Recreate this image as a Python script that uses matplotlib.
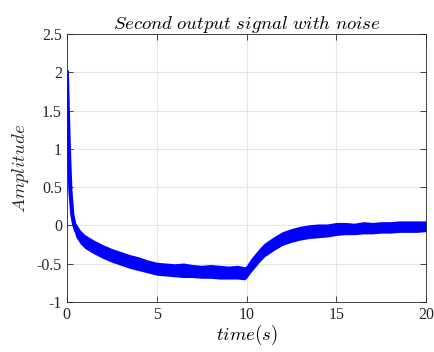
import numpy as np
import matplotlib.pyplot as plt

plt.rcParams['mathtext.fontset'] = 'cm'
plt.rcParams['font.family'] = ['Liberation Serif', 'DejaVu Serif']

# values: centre of the noisy band and its envelope
t = [0, 0.05, 0.1, 0.15, 0.2, 0.3, 0.4, 0.5, 0.75, 1, 1.5, 2, 2.5, 3, 3.5, 4, 4.5, 5, 5.5, 6,
     6.5, 7, 7.5, 8, 8.5, 9, 9.5, 9.9, 10, 10.25, 10.5, 10.75, 11, 11.5, 12, 12.5, 13, 13.5,
     14, 14.5, 15, 15.5, 16, 16.5, 17, 17.5, 18, 18.5, 19, 19.5, 20]
mid = [2.0, 1.55, 1.1, 0.75, 0.45, 0.15, 0.02, -0.06, -0.15, -0.21, -0.28, -0.34, -0.39, -0.43,
       -0.47, -0.5, -0.53, -0.56, -0.57, -0.58, -0.58, -0.59, -0.6, -0.6, -0.6, -0.61, -0.61, -0.62,
       -0.6, -0.52, -0.45, -0.38, -0.32, -0.24, -0.17, -0.13, -0.1, -0.08, -0.07, -0.06, -0.05,
       -0.04, -0.04, -0.03, -0.03, -0.03, -0.02, -0.02, -0.01, -0.01, -0.01]
upper = [2.02, 1.6, 1.15, 0.8, 0.5, 0.22, 0.1, 0.03, -0.06, -0.12, -0.19, -0.25, -0.3, -0.34,
         -0.38, -0.41, -0.45, -0.48, -0.49, -0.5, -0.49, -0.51, -0.52, -0.51, -0.52, -0.53, -0.52, -0.54,
         -0.52, -0.43, -0.36, -0.29, -0.23, -0.15, -0.08, -0.04, -0.01, 0.01, 0.02, 0.02, 0.04,
         0.04, 0.03, 0.05, 0.04, 0.05, 0.05, 0.06, 0.06, 0.06, 0.06]
lower = [1.98, 1.5, 1.05, 0.7, 0.4, 0.08, -0.06, -0.15, -0.24, -0.3, -0.37, -0.43, -0.48, -0.52,
         -0.56, -0.59, -0.62, -0.65, -0.66, -0.67, -0.68, -0.68, -0.69, -0.69, -0.7, -0.7, -0.7, -0.71,
         -0.69, -0.61, -0.54, -0.47, -0.41, -0.33, -0.26, -0.22, -0.19, -0.17, -0.16, -0.15, -0.13,
         -0.12, -0.12, -0.11, -0.11, -0.1, -0.1, -0.09, -0.09, -0.09, -0.08]

fig = plt.figure(figsize=(4.34, 3.52), dpi=100)
ax = fig.add_axes([0.154, 0.142, 0.828, 0.761])

ax.fill_between(t, lower, upper, color='#0000ff', lw=0)
ax.plot(t, mid, color='#0000ff', lw=3)

ax.set_xlim(0, 20)
ax.set_ylim(-1, 2.5)
ax.set_xticks([0, 5, 10, 15, 20])
ax.set_yticks(np.arange(-1, 2.51, 0.5))
ax.set_yticklabels(['-1', '-0.5', '0', '0.5', '1', '1.5', '2', '2.5'])
ax.grid(True, color='#e6e6e6', lw=0.8)
ax.set_axisbelow(True)
ax.tick_params(direction='in', top=True, right=True, labelsize=11.5, colors='#262626',
               length=4, width=0.6)
for s in ax.spines.values():
    s.set_color('#262626')
    s.set_linewidth(0.6)

ax.set_title(r'$Second\ output\ signal\ with\ noise$', fontsize=13.5, pad=4)
ax.set_xlabel(r'$time(s)$', fontsize=13.5, labelpad=0)
ax.set_ylabel(r'$Amplitude$', fontsize=13.5, color='#262626')
fig.text(0.593, 1.03, r'$(b)$', fontsize=13, ha='center', va='center')

fig.savefig('out.png', dpi=100)
